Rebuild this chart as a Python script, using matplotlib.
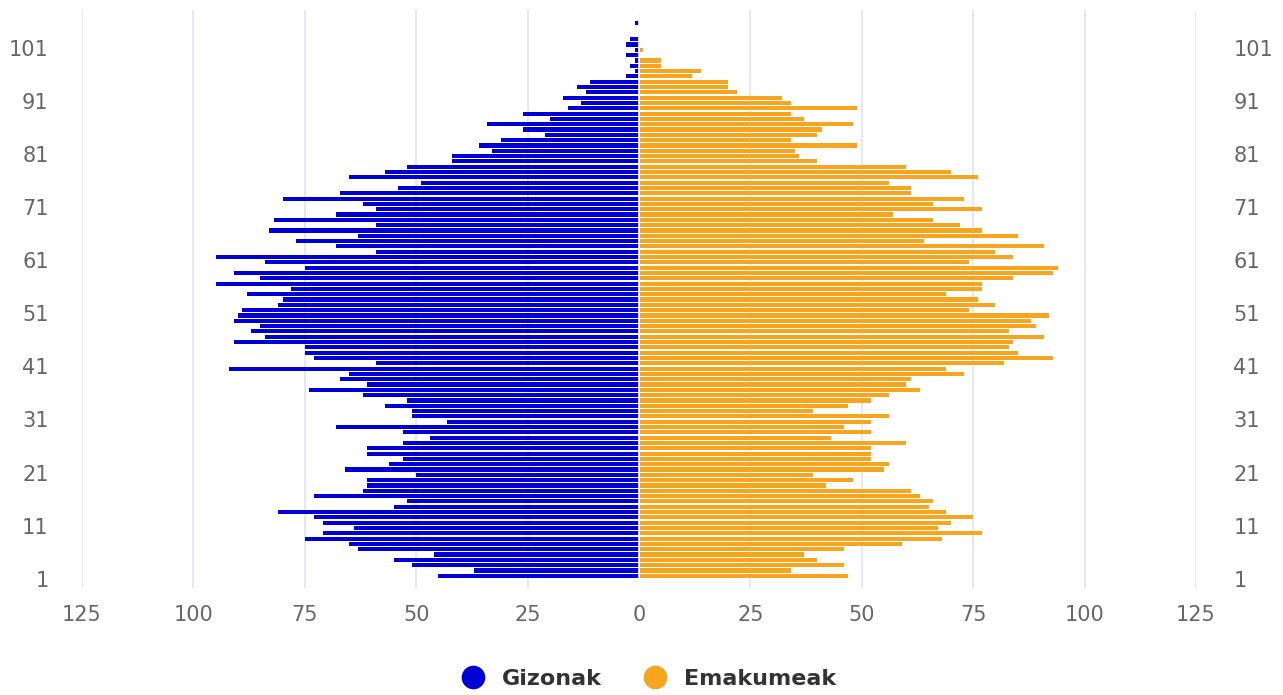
import matplotlib.pyplot as plt
import matplotlib.transforms as mtransforms
import numpy as np
from matplotlib.lines import Line2D

# ages 1..105 (bottom to top)
ages = list(range(1, 106))

gizonak = [
    45, 37, 51, 55, 46, 63, 65, 75, 71, 64,
    71, 73, 81, 55, 52, 73, 62, 61, 61, 50,
    66, 56, 53, 61, 61, 53, 47, 53, 68, 43,
    51, 51, 57, 52, 62, 74, 61, 67, 65, 92,
    59, 73, 75, 75, 91, 84, 87, 85, 91, 90,
    89, 81, 80, 88, 78, 95, 85, 91, 75, 84,
    95, 59, 68, 77, 63, 83, 59, 82, 68, 59,
    62, 80, 67, 54, 49, 65, 57, 52, 42, 42,
    33, 36, 31, 21, 26, 34, 20, 26, 16, 13,
    17, 12, 14, 11, 3, 1, 2, 1, 3, 1,
    3, 2, 0, 0, 1,
]

emakumeak = [
    47, 34, 46, 40, 37, 46, 59, 68, 77, 67,
    70, 75, 69, 65, 66, 63, 61, 42, 48, 39,
    55, 56, 52, 52, 52, 60, 43, 52, 46, 52,
    56, 39, 47, 52, 56, 63, 60, 61, 73, 69,
    82, 93, 85, 83, 84, 91, 83, 89, 88, 92,
    74, 80, 76, 69, 77, 77, 84, 93, 94, 74,
    84, 80, 91, 64, 85, 77, 72, 66, 57, 77,
    66, 73, 61, 61, 56, 76, 70, 60, 40, 36,
    35, 49, 34, 40, 41, 48, 37, 34, 49, 34,
    32, 22, 20, 20, 12, 14, 5, 5, 0, 1,
    0, 0, 0, 0, 0,
]

series_names = ["Gizonak", "Emakumeak"]
x_ticks = [-125, -100, -75, -50, -25, 0, 25, 50, 75, 100, 125]

blue = "#0000d6"
orange = "#f7a41e"
label_color = "#666666"

W, H = 1283, 695
fig = plt.figure(figsize=(W / 100, H / 100), dpi=100)
ax = fig.add_axes([82 / W, 1 - 588 / H, 1114 / W, 578 / H])

pos = np.arange(len(ages))
ax.barh(pos, -np.array(gizonak), height=0.78, color=blue, zorder=2)
ax.barh(pos, emakumeak, height=0.78, color=orange, zorder=2)
ax.axvline(0, color="white", lw=1.2, zorder=3)

ax.set_xlim(-125, 125)
ax.set_ylim(-2.3, 106.5)
ax.set_xticks(x_ticks)
ax.set_xticklabels([str(abs(t)) for t in x_ticks])
ax.grid(axis="x", color="#e0e4ec", lw=1.2, zorder=0)
ax.set_axisbelow(True)

tick_pos = pos[::10]
tick_labels = [str(a) for a in ages[::10]]
ax.set_yticks(tick_pos)
ax.set_yticklabels(tick_labels)
ax.tick_params(axis="y", length=0, labelsize=15, labelcolor=label_color, pad=24)
ax.tick_params(axis="x", length=0, labelsize=15, labelcolor=label_color, pad=12)
for s in ax.spines.values():
    s.set_visible(False)

ax2 = ax.twinx()
ax2.set_ylim(ax.get_ylim())
ax2.set_yticks(tick_pos)
ax2.set_yticklabels(tick_labels)
ax2.tick_params(axis="y", length=0, labelsize=15, labelcolor=label_color, pad=27)
for s in ax2.spines.values():
    s.set_visible(False)

# category labels sit a few pixels below the bar centres in the original
shift = mtransforms.ScaledTranslation(0, -3 / 100, fig.dpi_scale_trans)
for lbl in ax.get_yticklabels() + ax2.get_yticklabels():
    lbl.set_transform(lbl.get_transform() + shift)

handles = [
    Line2D([], [], marker="o", ls="none", markersize=17, color=c, markeredgewidth=0)
    for c in (blue, orange)
]
leg = fig.legend(
    handles, series_names, loc="center", bbox_to_anchor=(0.505, 0.023),
    ncol=2, frameon=False, handlelength=1.2, handletextpad=0.7,
    columnspacing=1.8, prop={"weight": "bold", "size": 16},
)
for t in leg.get_texts():
    t.set_color("#333333")

fig.savefig("out.png", dpi=100)
